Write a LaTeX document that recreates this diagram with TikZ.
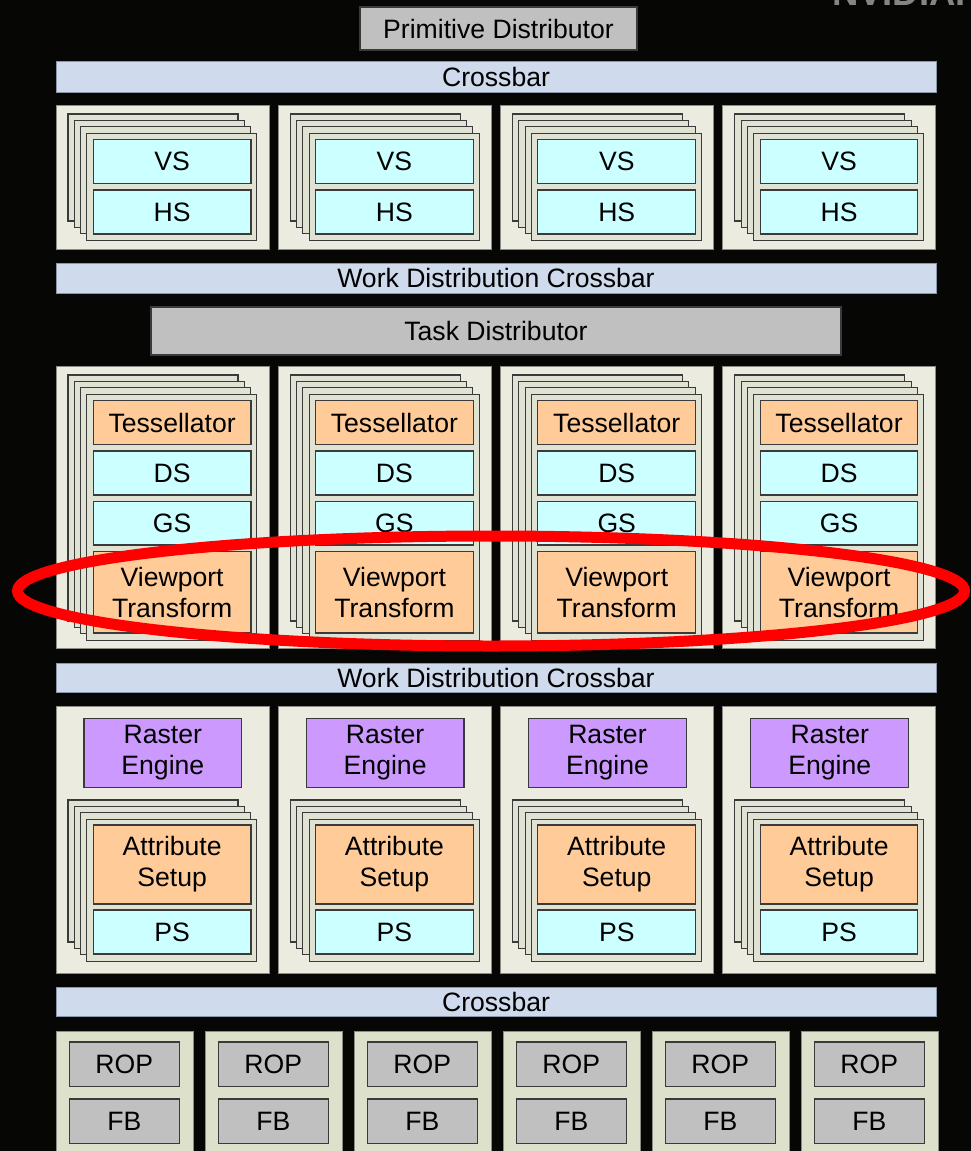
\documentclass[tikz,border=0pt]{standalone}
\usepackage{fontspec}
\setmainfont{Liberation Sans}
\definecolor{bgc}{HTML}{060604}
\definecolor{xbar}{HTML}{CFDAEC}
\definecolor{xbarline}{HTML}{8A96AA}
\definecolor{grp}{HTML}{EBEBE0}
\definecolor{grpline}{HTML}{8C8C84}
\definecolor{card}{HTML}{E0E3D3}
\definecolor{boxline}{HTML}{3A3A3A}
\definecolor{cyanb}{HTML}{CCFFFF}
\definecolor{orng}{HTML}{FFCC99}
\definecolor{purp}{HTML}{CC99FF}
\definecolor{grayb}{HTML}{C0C0C0}
\definecolor{ropg}{HTML}{DDE0CA}
\definecolor{logo}{HTML}{858585}
\newcommand\bx[7]{\node[#6, anchor=north west, minimum width={#4-#2}, minimum height={#5-#3}] (#1) at (#2,#3) {#7};}
\tikzset{
  every node/.style={font=\fontsize{26.6}{31}\selectfont, inner sep=0pt, outer sep=0pt, align=center, text=black},
  xbarbox/.style={fill=xbar, draw=xbarline, line width=0.8},
  graybox/.style={fill=grayb, draw=boxline, line width=1.1},
  grpbox/.style={fill=grp, draw=grpline, line width=0.9},
  ropbox/.style={fill=ropg, draw=grpline, line width=0.9},
  cardbox/.style={fill=card, draw=boxline, line width=1.1},
  cyanbox/.style={fill=cyanb, draw=boxline, line width=1.1},
  orngbox/.style={fill=orng, draw=boxline, line width=1.1},
  purpbox/.style={fill=purp, draw=boxline, line width=1.1},
}
\begin{document}
\begin{tikzpicture}[x=1pt, y=-1pt]
\useasboundingbox (0,0) rectangle (971,1151);
\fill[bgc] (0,0) rectangle (971,1151);
% logo (cut at top, as in the reference)
\node[anchor=base west, text=logo, font=\fontsize{36.5}{36.5}\bfseries] (logo) at (832,5.5) {NVIDIA.};
% top
\bx{pd}{360}{7}{637}{50}{graybox}{Primitive Distributor}
\bx{xb1}{56}{61}{936}{92}{xbarbox}{Crossbar}
\foreach \i in {0,...,3}{
  \pgfmathsetmacro\ox{222.3*\i}
  \begin{scope}[xshift=\ox]
    \bx{ga\i}{56}{105}{269}{249}{grpbox}{}
    \foreach \k in {0,...,3}{
      \node[cardbox, anchor=north west, minimum width=170, minimum height=107] (ca\i\k) at ({68+6.3*\k},{114+6.4*\k}) {};
    }
    \bx{vs\i}{93.3}{139.7}{251}{183.3}{cyanbox}{VS}
    \bx{hs\i}{93.3}{190}{251}{234}{cyanbox}{HS}
  \end{scope}
}
\bx{wd1}{56}{263}{936}{293}{xbarbox}{Work Distribution Crossbar}
\bx{td}{151}{307}{841}{355}{graybox}{Task Distributor}
% middle
\foreach \i in {0,...,3}{
  \pgfmathsetmacro\ox{222.3*\i}
  \begin{scope}[xshift=\ox]
    \bx{gb\i}{56}{366}{269}{648}{grpbox}{}
    \foreach \k in {0,...,3}{
      \node[cardbox, anchor=north west, minimum width=170, minimum height=246] (cb\i\k) at ({68+6.3*\k},{375+6.4*\k}) {};
    }
    \bx{ts\i}{93.3}{400.7}{251}{444.3}{orngbox}{Tessellator}
    \bx{ds\i}{93.3}{451}{251}{495}{cyanbox}{DS}
    \bx{gs\i}{93.3}{501.7}{251}{545}{cyanbox}{GS}
    \bx{vp\i}{93.3}{551.7}{251}{633}{orngbox}{Viewport\\Transform}
  \end{scope}
}
\bx{wd2}{56}{663}{936}{692}{xbarbox}{Work Distribution Crossbar}
% bottom
\foreach \i in {0,...,3}{
  \pgfmathsetmacro\ox{222.3*\i}
  \begin{scope}[xshift=\ox]
    \bx{gc\i}{56}{706}{269}{973}{grpbox}{}
    \bx{re\i}{84}{718.3}{241.7}{787.7}{purpbox}{Raster\\Engine}
    \foreach \k in {0,...,3}{
      \node[cardbox, anchor=north west, minimum width=170, minimum height=142] (cc\i\k) at ({68+6.3*\k},{800+6.4*\k}) {};
    }
    \bx{as\i}{93.3}{825}{251}{904}{orngbox}{Attribute\\Setup}
    \bx{ps\i}{93.3}{910}{251}{954}{cyanbox}{PS}
  \end{scope}
}
\bx{xb2}{56}{987}{936}{1016}{xbarbox}{Crossbar}
\foreach \j in {0,...,5}{
  \pgfmathsetmacro\ox{149*\j}
  \begin{scope}[xshift=\ox]
    \bx{rg\j}{56}{1031}{193}{1165}{ropbox}{}
    \bx{rop\j}{69.3}{1042}{179.3}{1086.7}{graybox}{ROP}
    \bx{fb\j}{69.3}{1099}{179.3}{1143.3}{graybox}{FB}
  \end{scope}
}
% highlight
\draw[red, line width=11] (491,591) ellipse [x radius=473.5, y radius=55];
\end{tikzpicture}
\end{document}
